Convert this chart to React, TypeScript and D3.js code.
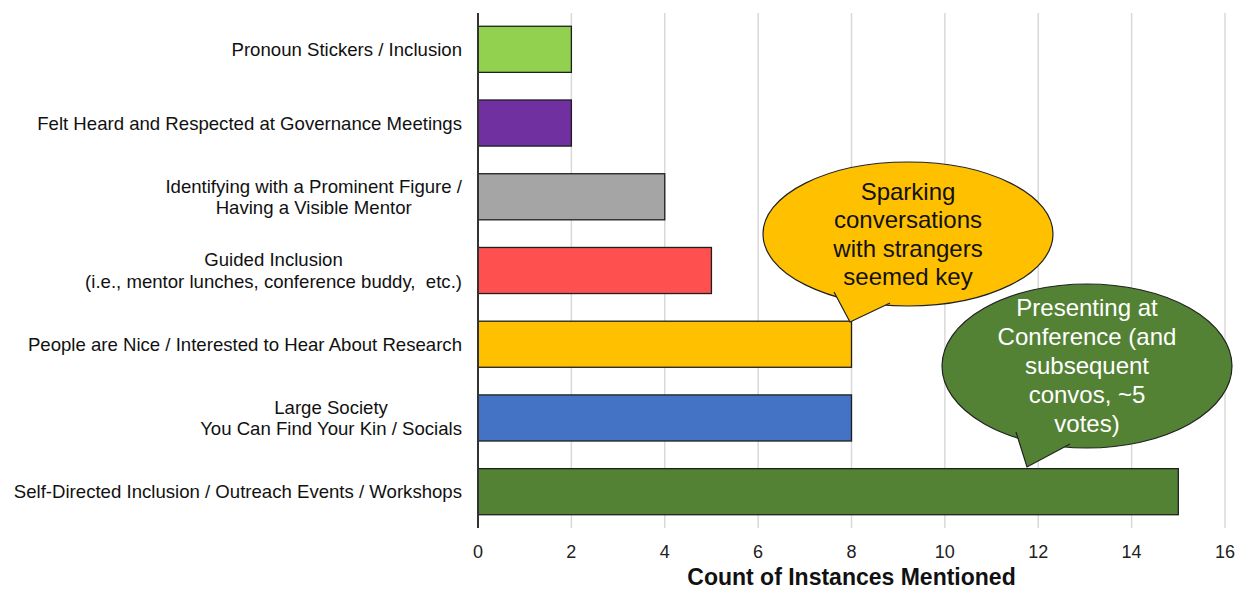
import { useEffect, useRef } from 'react';
import * as d3 from 'd3';

const categories = [
  ['Pronoun Stickers / Inclusion'],
  ['Felt Heard and Respected at Governance Meetings'],
  ['Identifying with a Prominent Figure /', 'Having a Visible Mentor'],
  ['Guided Inclusion', '(i.e., mentor lunches, conference buddy,  etc.)'],
  ['People are Nice / Interested to Hear About Research'],
  ['Large Society', 'You Can Find Your Kin / Socials'],
  ['Self-Directed Inclusion / Outreach Events / Workshops'],
];
const counts = [2, 2, 4, 5, 8, 8, 15];
const barColors = ['#92D050', '#7030A0', '#A5A5A5', '#FF5050', '#FFC000', '#4472C4', '#548235'];
const xTicks = [0, 2, 4, 6, 8, 10, 12, 14, 16];
const callout1 = ['Sparking', 'conversations', 'with strangers', 'seemed key'];
const callout2 = ['Presenting at', 'Conference (and', 'subsequent', 'convos, ~5', 'votes)'];

const W = 1244;
const H = 590;
const margin = { top: 13, right: 19, bottom: 62, left: 478 };
const font = 'Liberation Sans, Arial, sans-serif';

const App = () => {
  const svgRef = useRef<SVGSVGElement>(null);

  useEffect(() => {
    if (!svgRef.current) return;
    const svg = d3.select(svgRef.current);
    svg.selectAll('*').remove();

    const innerW = W - margin.left - margin.right;
    const innerH = H - margin.top - margin.bottom;

    const x = d3.scaleLinear().domain([0, 16]).range([0, innerW]);
    const y = d3.scaleBand<number>()
      .domain(d3.range(categories.length))
      .range([0, innerH])
      .paddingInner(0.375)
      .paddingOuter(0.18);

    const g = svg.append('g').attr('transform', `translate(${margin.left},${margin.top})`);

    // gridlines
    g.selectAll('line.grid')
      .data(xTicks.slice(1))
      .enter()
      .append('line')
      .attr('x1', d => x(d))
      .attr('x2', d => x(d))
      .attr('y1', 0)
      .attr('y2', innerH)
      .attr('stroke', '#d9d9d9')
      .attr('stroke-width', 1.5);

    // bars
    g.selectAll('rect.bar')
      .data(counts)
      .enter()
      .append('rect')
      .attr('x', 0)
      .attr('y', (_, i) => y(i) ?? 0)
      .attr('width', d => x(d))
      .attr('height', y.bandwidth())
      .attr('fill', (_, i) => barColors[i])
      .attr('stroke', '#1f1f1f')
      .attr('stroke-width', 1.3);

    // y axis line
    g.append('line')
      .attr('x1', 0).attr('x2', 0)
      .attr('y1', 0).attr('y2', innerH)
      .attr('stroke', '#333')
      .attr('stroke-width', 2);

    // x tick labels
    g.selectAll('text.tick')
      .data(xTicks)
      .enter()
      .append('text')
      .attr('x', d => x(d))
      .attr('y', innerH + 30)
      .attr('text-anchor', 'middle')
      .attr('font-family', font)
      .attr('font-size', 18)
      .attr('fill', '#222')
      .text(d => d);

    g.append('text')
      .attr('x', innerW / 2)
      .attr('y', innerH + 57)
      .attr('text-anchor', 'middle')
      .attr('font-family', font)
      .attr('font-size', 23)
      .attr('font-weight', 'bold')
      .attr('fill', '#111')
      .text('Count of Instances Mentioned');

    // category labels: block right aligned, lines centered
    categories.forEach((lines, i) => {
      const cy = (y(i) ?? 0) + y.bandwidth() / 2;
      const lh = 21.5;
      const grp = g.append('g');
      const texts = lines.map((ln, j) =>
        grp.append('text')
          .attr('y', cy + (j - (lines.length - 1) / 2) * lh)
          .attr('dy', '0.35em')
          .attr('text-anchor', 'middle')
          .attr('font-family', font)
          .attr('font-size', 18.6)
          .attr('fill', '#111')
          .style('white-space', 'pre')
          .text(ln)
      );
      const maxW = d3.max(texts, t => (t.node() as SVGTextElement).getComputedTextLength()) || 0;
      texts.forEach(t => t.attr('x', -16 - maxW / 2));
    });

    // callouts
    const drawCallout = (
      cx: number, cy: number, rx: number, ry: number,
      tail: [number, number][], fill: string, color: string, lines: string[], lh: number
    ) => {
      const cg = svg.append('g');
      cg.append('ellipse')
        .attr('cx', cx).attr('cy', cy).attr('rx', rx).attr('ry', ry)
        .attr('fill', fill)
        .attr('stroke', '#222')
        .attr('stroke-width', 1.2);
      // tail: fill over the seam, then stroke only the two outer edges
      cg.append('path')
        .attr('d', d3.line()(tail) + 'Z')
        .attr('fill', fill)
        .attr('stroke', 'none');
      cg.append('path')
        .attr('d', d3.line()(tail))
        .attr('fill', 'none')
        .attr('stroke', '#222')
        .attr('stroke-width', 1.2);
      const n = lines.length;
      lines.forEach((ln, j) => {
        cg.append('text')
          .attr('x', cx)
          .attr('y', cy + (j - (n - 1) / 2) * lh)
          .attr('dy', '0.35em')
          .attr('text-anchor', 'middle')
          .attr('font-family', font)
          .attr('font-size', 24)
          .attr('fill', color)
          .text(ln);
      });
    };

    drawCallout(908, 234, 145, 72,
      [[834, 292], [850, 322], [890, 303]], '#FFC000', '#111', callout1, 28.5);
    drawCallout(1087, 366, 145, 82,
      [[1016, 432], [1027, 467], [1070, 444]], '#548235', '#fff', callout2, 29);
  }, []);

  return (
    <svg
      ref={svgRef}
      width={W}
      height={H}
      style={{ position: 'absolute', left: 0, top: 0, background: '#fff' }}
    />
  );
};

export default App;
